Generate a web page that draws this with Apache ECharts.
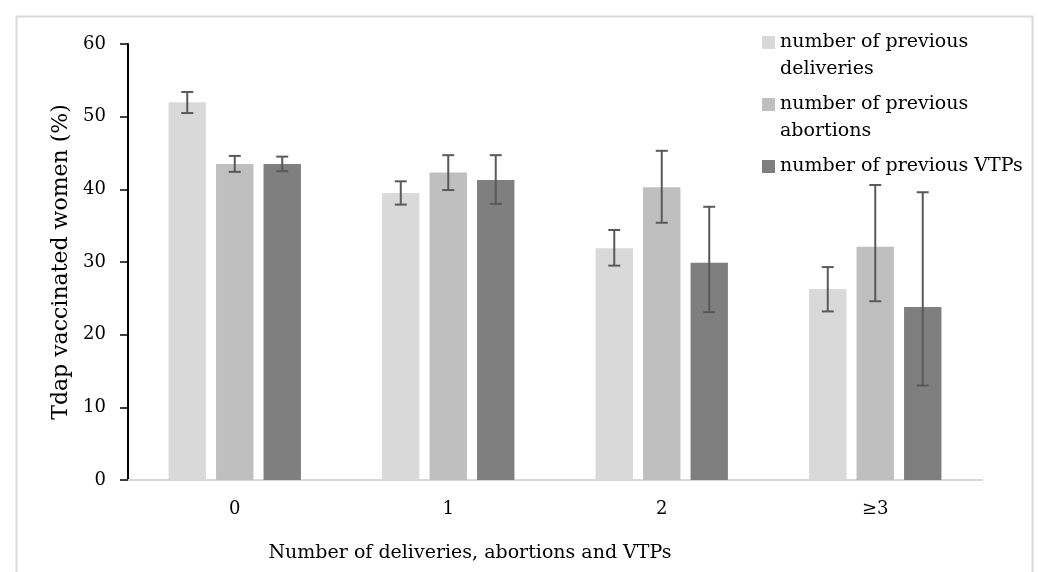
<!DOCTYPE html>
<html>
<head>
<meta charset="utf-8">
<script src="https://cdn.jsdelivr.net/npm/echarts@6/dist/echarts.min.js"></script>
<style>
  html, body { margin: 0; padding: 0; background: #fff; }
  #chart { width: 1038px; height: 572px; }
</style>
</head>
<body>
<div id="chart"></div>
<script>
  // categories and values
  const categories = ['0', '1', '2', '≥3'];
  const deliveries = [52.0, 39.5, 31.9, 26.3];
  const abortions = [43.5, 42.3, 40.3, 32.1];
  const vtps = [43.5, 41.3, 29.9, 23.8];
  // lower / upper ends of the error bars (not symmetric)
  const deliveriesLow = [50.5, 37.9, 29.5, 23.2];
  const deliveriesHigh = [53.4, 41.1, 34.4, 29.3];
  const abortionsLow = [42.4, 39.9, 35.4, 24.6];
  const abortionsHigh = [44.6, 44.7, 45.3, 40.6];
  const vtpsLow = [42.5, 38.0, 23.1, 13.0];
  const vtpsHigh = [44.5, 44.7, 37.6, 39.6];
  const yTicks = [0, 10, 20, 30, 40, 50, 60];

  const FONT = 'DejaVu Serif';
  const CAT_GAP = 0.38;
  const BAR_GAP = 0.27;
  const colors = ['#d9d9d9', '#bfbfbf', '#7f7f7f'];

  function errData(lo, hi) {
    return lo.map((v, i) => [i, v, hi[i]]);
  }

  // draws the whisker for bar number k inside each category
  function errRender(k) {
    return function (params, api) {
      const idx = api.value(0);
      const lo = api.coord([idx, api.value(1)]);
      const hi = api.coord([idx, api.value(2)]);
      const band = api.size([1, 0])[0];
      const bw = band * (1 - CAT_GAP) / (3 + 2 * BAR_GAP);
      const x = lo[0] + (k - 1) * bw * (1 + BAR_GAP);
      const style = { stroke: '#595959', lineWidth: 2 };
      return {
        type: 'group',
        children: [
          { type: 'line', shape: { x1: x, y1: hi[1], x2: x, y2: lo[1] }, style: style },
          { type: 'line', shape: { x1: x - 6, y1: hi[1], x2: x + 6, y2: hi[1] }, style: style },
          { type: 'line', shape: { x1: x - 6, y1: lo[1], x2: x + 6, y2: lo[1] }, style: style }
        ]
      };
    };
  }

  const names = ['number of previous deliveries', 'number of previous abortions', 'number of previous VTPs'];

  const myChart = echarts.init(document.getElementById('chart'));
  const option = {
    animation: false,
    color: colors,
    textStyle: { fontFamily: FONT },
    graphic: [{
      type: 'rect',
      left: 14, top: 14,
      shape: { width: 1016, height: 600 },
      style: { fill: 'none', stroke: '#d9d9d9', lineWidth: 2 },
      silent: true
    }],
    grid: { left: 128, right: 56, top: 44, bottom: 92 },
    legend: {
      orient: 'vertical',
      left: 762,
      top: 2,
      padding: 0,
      itemWidth: 13,
      itemHeight: 13,
      itemGap: -19,
      icon: 'rect',
      textStyle: { fontFamily: FONT, fontSize: 19, color: '#000', lineHeight: 27 },
      // blank line above (and below for the last one) so the square sits on the first line
      formatter: function (n) {
        return n === names[2] ? '\n' + n + '\n' : '\n' + n.replace('previous ', 'previous\n');
      },
      data: names
    },
    xAxis: {
      type: 'category',
      data: categories,
      name: 'Number of deliveries, abortions and VTPs',
      nameLocation: 'middle',
      nameGap: 64,
      nameTextStyle: { fontFamily: FONT, fontSize: 19, color: '#000', padding: [0, 170, 0, 0] },
      axisLine: { lineStyle: { color: '#d9d9d9', width: 2 } },
      axisTick: { show: false },
      axisLabel: { fontFamily: FONT, fontSize: 18, color: '#000', margin: 20 }
    },
    yAxis: {
      type: 'value',
      min: yTicks[0],
      max: yTicks[yTicks.length - 1],
      interval: yTicks[1] - yTicks[0],
      name: 'Tdap vaccinated women (%)',
      nameLocation: 'middle',
      nameGap: 56,
      nameTextStyle: { fontFamily: FONT, fontSize: 22, color: '#000' },
      axisLine: { show: true, lineStyle: { color: '#000', width: 2 } },
      axisTick: { show: true, length: 8, lineStyle: { color: '#000', width: 1.5 } },
      axisLabel: { fontFamily: FONT, fontSize: 18, color: '#000', margin: 22 },
      splitLine: { show: false }
    },
    series: [
      { name: names[0], type: 'bar', data: deliveries, barCategoryGap: (CAT_GAP * 100) + '%', barGap: (BAR_GAP * 100) + '%' },
      { name: names[1], type: 'bar', data: abortions },
      { name: names[2], type: 'bar', data: vtps },
      { type: 'custom', renderItem: errRender(0), data: errData(deliveriesLow, deliveriesHigh), encode: { x: 0, y: [1, 2] }, z: 10 },
      { type: 'custom', renderItem: errRender(1), data: errData(abortionsLow, abortionsHigh), encode: { x: 0, y: [1, 2] }, z: 10 },
      { type: 'custom', renderItem: errRender(2), data: errData(vtpsLow, vtpsHigh), encode: { x: 0, y: [1, 2] }, z: 10 }
    ]
  };
  myChart.setOption(option);
</script>
</body>
</html>
